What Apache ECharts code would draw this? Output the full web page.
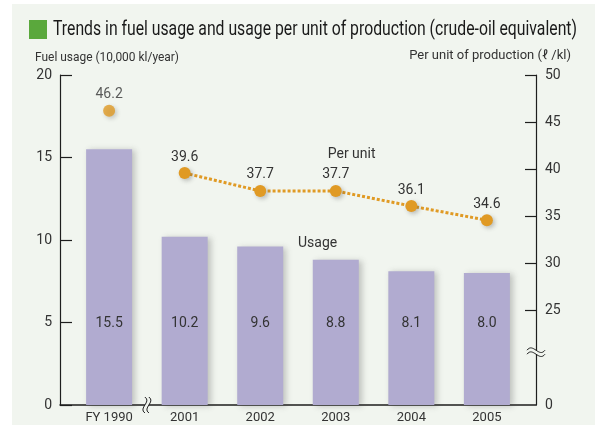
<!DOCTYPE html>
<html>
<head>
<meta charset="utf-8">
<script src="https://cdn.jsdelivr.net/npm/echarts@6/dist/echarts.min.js"></script>
<style>
  html, body { margin: 0; padding: 0; background: #fff; }
  #chart { width: 598px; height: 427px; }
</style>
</head>
<body>
<div id="chart"></div>
<script>
// Fiscal years on the horizontal axis
const years = ['FY 1990', '2001', '2002', '2003', '2004', '2005'];
// Fuel usage, 10,000 kl/year (left axis)
const usage = [15.5, 10.2, 9.6, 8.8, 8.1, 8.0];
// Usage per unit of production, l/kl (right axis)
const perUnit = [46.2, 39.6, 37.7, 37.7, 36.1, 34.6];
// Tick values
const leftTicks = [0, 5, 10, 15, 20];
const rightTicks = [25, 30, 35, 40, 45, 50];

const FONT = 'Roboto, "Liberation Sans", sans-serif';
const INK = '#1e1e1e';
const TEXT = '#333';
const ORANGE = '#e09a24';
const BAR = '#b1abd0';
const PANEL = '#f1f5ef';
// The right axis is broken: its bottom (15) is shown as 0
const R_MIN = 15;

const TITLE = 'Trends in fuel usage and usage per unit of production (crude-oil equivalent)';
const LEFT_NAME = 'Fuel usage (10,000 kl/year)';
const RIGHT_NAME = 'Per unit of production (\u2113 /kl)';

// Condensed-looking headings: measure the text and squeeze it to the wanted width
const measureCtx = document.createElement('canvas').getContext('2d');
function squeeze(text, size, width) {
  measureCtx.font = size + 'px ' + FONT;
  return Math.min(1, width / measureCtx.measureText(text).width);
}

const chart = echarts.init(document.getElementById('chart'), null, { renderer: 'canvas' });

chart.setOption({
  backgroundColor: '#ffffff',
  animation: false,
  textStyle: { fontFamily: FONT },
  grid: { left: 60, right: 62, top: 75, bottom: 22, containLabel: false },
  xAxis: {
    type: 'value', min: -0.65, max: 5.65,
    axisLine: { show: true, onZero: false, lineStyle: { color: INK, width: 1.5 } },
    axisTick: { show: false },
    splitLine: { show: false },
    axisLabel: {
      customValues: years.map((_, i) => i),
      formatter: v => years[v],
      fontFamily: FONT, fontSize: 13, color: TEXT, margin: 6
    }
  },
  yAxis: [
    {
      type: 'value', min: 0, max: 20, interval: 5, position: 'left',
      axisLine: { show: true, onZero: false, lineStyle: { color: INK, width: 1.2 } },
      axisTick: { show: true, inside: true, length: 12, lineStyle: { color: INK, width: 1.2 },
                  customValues: leftTicks },
      splitLine: { show: false },
      axisLabel: { customValues: leftTicks, fontFamily: FONT, fontSize: 14, color: TEXT, margin: 8 }
    },
    {
      type: 'value', min: R_MIN, max: 50, interval: 5, position: 'right',
      axisLine: { show: true, onZero: false, lineStyle: { color: INK, width: 1.2 } },
      axisTick: { show: true, inside: true, length: 11, lineStyle: { color: INK, width: 1.2 },
                  customValues: rightTicks },
      splitLine: { show: false },
      axisLabel: {
        customValues: [R_MIN].concat(rightTicks),
        formatter: v => (v === R_MIN ? '0' : String(v)),
        fontFamily: FONT, fontSize: 14, color: TEXT, margin: 9
      }
    }
  ],
  series: [
    {
      name: 'Usage', type: 'bar', xAxisIndex: 0, yAxisIndex: 0,
      barWidth: 46,
      data: usage.map((v, i) => [i, v]),
      itemStyle: {
        color: BAR,
        shadowColor: 'rgba(60,60,60,0.28)', shadowBlur: 6, shadowOffsetX: 3, shadowOffsetY: 1
      },
      label: {
        show: true, position: 'insideBottom', distance: 75,
        formatter: p => p.value[1].toFixed(1),
        fontFamily: FONT, fontSize: 14, color: TEXT
      },
      z: 2
    },
    {
      name: 'Per unit 1990', type: 'scatter', xAxisIndex: 0, yAxisIndex: 1,
      data: [[0, perUnit[0]]],
      symbol: 'circle', symbolSize: 12,
      itemStyle: { color: ORANGE, shadowColor: 'rgba(60,60,60,0.3)', shadowBlur: 4, shadowOffsetX: 2, shadowOffsetY: 2 },
      label: { show: true, position: 'top', distance: 3,
               formatter: p => p.value[1].toFixed(1),
               fontFamily: FONT, fontSize: 14, color: TEXT },
      z: 4
    },
    {
      name: 'Per unit', type: 'line', xAxisIndex: 0, yAxisIndex: 1,
      data: perUnit.slice(1).map((v, i) => [i + 1, v]),
      symbol: 'circle', symbolSize: 12, showSymbol: true,
      lineStyle: { color: ORANGE, width: 3, type: [3, 2] },
      itemStyle: { color: ORANGE, shadowColor: 'rgba(60,60,60,0.3)', shadowBlur: 4, shadowOffsetX: 2, shadowOffsetY: 2 },
      label: { show: true, position: 'top', distance: 3,
               formatter: p => p.value[1].toFixed(1),
               fontFamily: FONT, fontSize: 14, color: TEXT },
      z: 4
    }
  ]
});

// Decorations placed through the axes' own scales
const px = (xy, yIdx) => chart.convertToPixel({ xAxisIndex: 0, yAxisIndex: yIdx }, xy);
const xBreak = px([0.5, 0], 0);
const yBreak = px([5.65, 20.6], 1);
const perUnitTag = px([3.21, 41.6], 1);
const usageTag = px([2.76, 9.8], 0);

const INK_LINE = { fill: null, stroke: INK, lineWidth: 1 };
// one S-shaped stroke for the break marks
const hWave = dy => ({ type: 'bezierCurve', z: 21, silent: true,
  shape: { x1: -9, y1: dy, x2: 9, y2: dy, cpx1: -3, cpy1: dy - 8, cpx2: 3, cpy2: dy + 8 }, style: INK_LINE });
const vWave = dx => ({ type: 'bezierCurve', z: 21, silent: true,
  shape: { x1: dx, y1: -8, x2: dx, y2: 8, cpx1: dx + 7, cpy1: -3, cpx2: dx - 7, cpy2: 3 }, style: INK_LINE });

const titleScale = squeeze(TITLE, 21, 524);
const leftScale = squeeze(LEFT_NAME, 13, 144);
const rightScale = squeeze(RIGHT_NAME, 13, 167);

chart.setOption({
  graphic: [
    { type: 'rect', z: -10, silent: true,
      shape: { x: 12, y: 4, width: 583, height: 421 }, style: { fill: PANEL } },
    { type: 'rect', z: 10, silent: true,
      shape: { x: 29, y: 20, width: 18, height: 19 }, style: { fill: '#5aa83c' } },
    { type: 'text', z: 10, silent: true, x: 53, y: 30, scaleX: titleScale,
      style: { text: TITLE, fill: '#1a1a1a', font: '21px ' + FONT, align: 'left', verticalAlign: 'middle' } },
    { type: 'text', z: 10, silent: true, x: 35, y: 58, scaleX: leftScale,
      style: { text: LEFT_NAME, fill: TEXT, font: '13px ' + FONT, align: 'left', verticalAlign: 'middle' } },
    { type: 'text', z: 10, silent: true, x: 571, y: 56, scaleX: rightScale,
      style: { text: RIGHT_NAME, fill: TEXT, font: '13px ' + FONT, align: 'right', verticalAlign: 'middle' } },
    { type: 'text', z: 10, silent: true, x: perUnitTag[0], y: perUnitTag[1],
      style: { text: 'Per unit', fill: TEXT, font: '14px ' + FONT, align: 'center', verticalAlign: 'middle' } },
    { type: 'text', z: 10, silent: true, x: usageTag[0], y: usageTag[1],
      style: { text: 'Usage', fill: TEXT, font: '14px ' + FONT, align: 'center', verticalAlign: 'middle' } },
    // break mark on the horizontal axis
    { type: 'group', z: 20, x: xBreak[0], y: xBreak[1], children: [
      { type: 'rect', z: 20, silent: true, shape: { x: -2, y: -3, width: 4, height: 6 }, style: { fill: PANEL } },
      vWave(-2), vWave(2)
    ] },
    // break mark on the right axis
    { type: 'group', z: 20, x: yBreak[0], y: yBreak[1], children: [
      { type: 'rect', z: 20, silent: true, shape: { x: -3, y: -2, width: 6, height: 4 }, style: { fill: PANEL } },
      hWave(-2), hWave(2)
    ] }
  ]
});
</script>
</body>
</html>
